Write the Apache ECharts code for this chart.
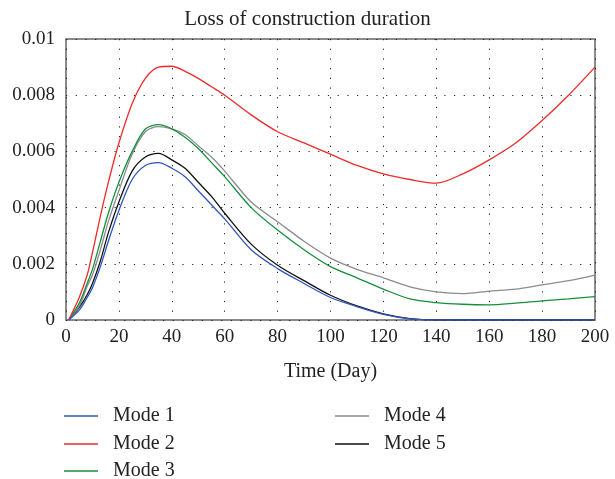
<!DOCTYPE html>
<html>
<head>
<meta charset="utf-8">
<script src="https://cdn.jsdelivr.net/npm/echarts@6/dist/echarts.min.js"></script>
<style>html,body{margin:0;padding:0;background:#fff}#c{width:615px;height:479px}</style>
</head>
<body>
<div id="c"></div>
<script>
var days = [1,5,8,10,13,16,20,25,30,35,40,45,50,55,60,70,80,90,100,110,120,130,140,150,160,170,180,190,200];
var mode1 = [0,.00035,.0008,.00115,.0019,.0028,.0039,.0050,.0055,.0056,.0054,.0051,.0046,.0041,.0036,.0025,.00183,.0013,.0008,.00048,.0002,.00004,0,0,0,0,0,0,0];
var mode2 = [0,.0008,.0016,.0024,.0037,.0049,.0063,.0077,.0086,.0090,.00903,.00885,.0086,.0083,.0080,.0073,.0067,.0063,.0059,.0055,.0052,.0050,.00487,.0052,.0057,.0063,.0071,.0080,.0090];
var mode3 = [0,.0006,.0013,.0018,.0028,.0038,.0049,.0060,.0068,.00695,.0068,.0065,.0061,.0056,.0051,.0040,.0032,.0025,.0019,.0015,.0011,.00075,.00062,.00056,.00054,.0006,.00068,.00075,.00083];
var mode4 = [0,.0005,.0012,.0016,.0025,.0035,.0046,.0059,.0067,.00688,.0068,.0066,.0062,.0058,.0053,.0042,.0035,.0028,.0022,.0018,.0015,.00118,.0010,.00094,.00103,.0011,.00125,.0014,.0016];
var mode5 = [0,.00045,.0009,.0013,.0021,.0031,.0042,.0053,.0058,.00593,.0057,.0054,.0049,.0044,.0038,.0027,.00195,.0014,.00088,.0005,.00022,.00005,0,0,0,0,0,0,0];
var names = ['Mode 1','Mode 2','Mode 3','Mode 4','Mode 5'];
var colors = ['#2f55c0','#ee2a2a','#14903c','#8c8c8c','#111111'];
var values = [mode1, mode2, mode3, mode4, mode5];

var font = 'Liberation Serif';
var chart = echarts.init(document.getElementById('c'));
var series = names.map(function(n, i){
  return {
    name: n, type: 'line', symbol: 'none', showSymbol: false,
    smooth: 0.3,
    data: days.map(function(d, j){ return [d, values[i][j]]; }),
    lineStyle: {color: colors[i], width: 1.3},
    itemStyle: {color: colors[i]},
    z: 10 - i
  };
});
var legendPos = [[64, 406], [64, 434], [64, 461], [335, 406], [335, 434]];
var legends = names.map(function(n, i){
  return {
    orient: 'vertical', left: legendPos[i][0], top: legendPos[i][1], padding: 0,
    icon: 'rect', itemWidth: 34, itemHeight: 1.5,
    textStyle: {fontFamily: font, fontSize: 20, color: '#222', padding: [0,0,0,10], lineHeight: 18},
    data: [n]
  };
});
chart.setOption({
  animation: false,
  backgroundColor: '#fff',
  title: {text: 'Loss of construction duration', left: 'center', top: 4,
    textStyle: {fontFamily: font, fontSize: 21, fontWeight: 'normal', color: '#222'}},
  grid: {left: 66, right: 20, top: 39, bottom: 159, show: true, borderColor: '#666', borderWidth: 1.5},
  legend: legends,
  xAxis: {
    type: 'value', min: 0, max: 200, interval: 20,
    name: 'Time (Day)', nameLocation: 'middle', nameGap: 42,
    nameTextStyle: {fontFamily: font, fontSize: 20, color: '#222'},
    axisLine: {show: false}, axisTick: {show: false},
    axisLabel: {fontFamily: font, fontSize: 19, color: '#222', margin: 8},
    splitLine: {show: true, lineStyle: {color: '#222', width: 1, type: [1.2, 8.5]}}
  },
  yAxis: {
    type: 'value', min: 0, max: 0.01, interval: 0.002,
    axisLine: {show: false}, axisTick: {show: false},
    axisLabel: {fontFamily: font, fontSize: 19, color: '#222', margin: 11},
    splitLine: {show: true, lineStyle: {color: '#222', width: 1, type: [1.2, 8.5]}}
  },
  series: series
});
</script>
</body>
</html>
